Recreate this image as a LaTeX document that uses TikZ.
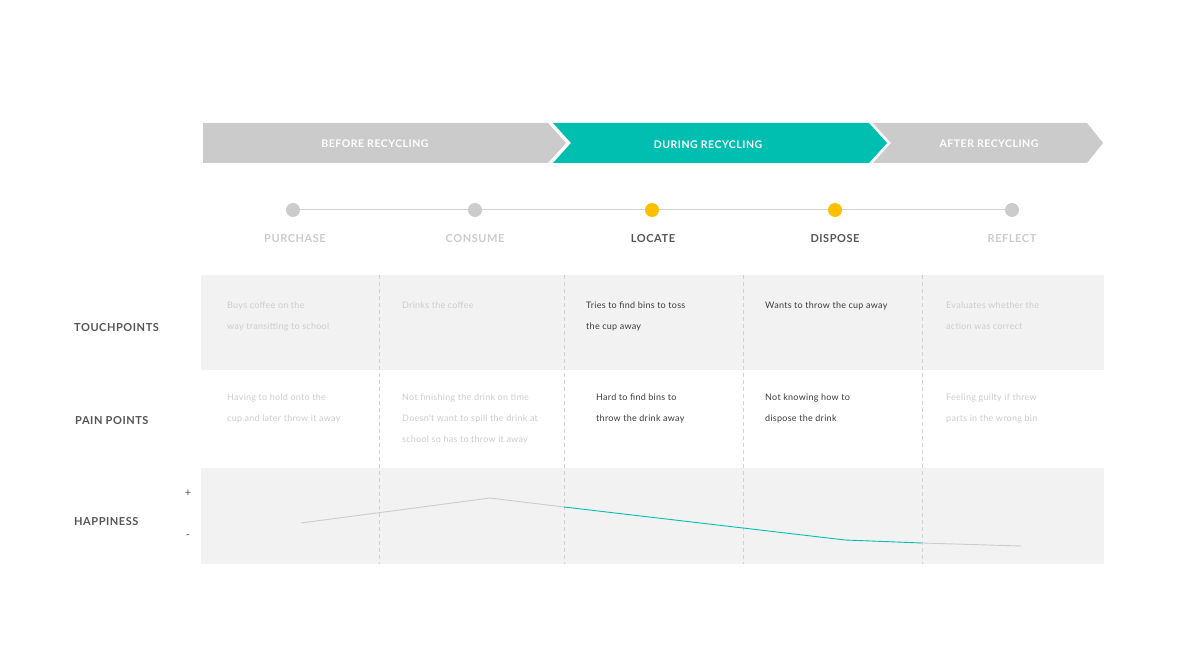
\documentclass[tikz,border=0pt]{standalone}
\usepackage{fontspec}
\setmainfont{Lato}
\newfontfamily\capsfont[LetterSpace=5]{Lato}
\newfontfamily\bodyfont[LetterSpace=3]{Lato}
\usetikzlibrary{positioning}
\definecolor{journeyteal}{HTML}{00BFB0}
\definecolor{bandgray}{HTML}{CBCBCB}
\definecolor{dotgray}{HTML}{CCCCCC}
\definecolor{dotyellow}{HTML}{FDC000}
\definecolor{rowfill}{HTML}{F2F2F2}
\definecolor{sepgray}{HTML}{D2D2D2}
\definecolor{lighttext}{HTML}{CDCDCD}
\definecolor{darktext}{HTML}{3C3C3C}
\definecolor{headgray}{HTML}{555555}
\begin{document}
\begin{tikzpicture}[x=1pt,y=-1pt,
    phase/.style={font=\capsfont\bfseries\fontsize{10.5}{12}\selectfont,text=white},
    stage/.style={circle,fill=dotgray,minimum size=14pt,inner sep=0pt},
    stagelabel/.style={font=\capsfont\bfseries\fontsize{11}{13}\selectfont,text=dotgray},
    rowlabel/.style={anchor=west,inner sep=0pt,font=\capsfont\bfseries\fontsize{11}{13}\selectfont,text=headgray},
    cell/.style={anchor=north west,align=left,inner sep=0pt,font=\bodyfont\fontsize{9}{21}\selectfont,text=lighttext},
    active/.style={text=darktext},
    tline/.style={draw=sepgray,line width=1pt},
    sep/.style={draw=sepgray,dash pattern=on 4pt off 3pt,line width=0.6pt},
    curve/.style={draw=dotgray,line width=0.9pt}]
    \useasboundingbox[fill=white] (0,0) rectangle (1188,668);

    % phases
    \fill[bandgray] (203,123) -- (548,123) -- (566,143) -- (548,163) -- (203,163) -- cycle;
    \fill[journeyteal] (553,123) -- (869,123) -- (887,143) -- (869,163) -- (553,163) -- (571,143) -- cycle;
    \fill[bandgray] (873,123) -- (1087,123) -- (1103,143) -- (1087,163) -- (873,163) -- (891,143) -- cycle;
    \node[phase] (before) at (375,144) {BEFORE RECYCLING};
    \node[phase] (during) at (708,145) {DURING RECYCLING};
    \node[phase] (after) at (989,144) {AFTER RECYCLING};

    % stages
    \node[stage] (purchase) at (293,210) {};
    \node[stage] (consume) at (475,210) {};
    \node[stage,fill=dotyellow] (locate) at (652,210) {};
    \node[stage,fill=dotyellow] (dispose) at (835,210) {};
    \node[stage] (reflect) at (1012,210) {};
    \path[tline]
    (purchase) edge (consume)
    (consume) edge (locate)
    (locate) edge (dispose)
    (dispose) edge (reflect)
    ;
    \node[stagelabel] (purchaselbl) at (295,239) {PURCHASE};
    \node[stagelabel] (consumelbl) at (475,239) {CONSUME};
    \node[stagelabel,text=headgray] (locatelbl) at (653,239) {LOCATE};
    \node[stagelabel,text=headgray] (disposelbl) at (835,239) {DISPOSE};
    \node[stagelabel] (reflectlbl) at (1012,239) {REFLECT};

    % rows
    \fill[rowfill] (201,275) rectangle (1104,370);
    \fill[rowfill] (201,468) rectangle (1104,564);
    \draw[sep] (379,275) -- (379,564);
    \draw[sep] (564,275) -- (564,564);
    \draw[sep] (743,275) -- (743,564);
    \draw[sep] (922,275) -- (922,564);

    \node[rowlabel] (touch) at (74,328) {TOUCHPOINTS};
    \node[rowlabel] (pain) at (75,421) {PAIN POINTS};
    \node[rowlabel] (happy) at (74,522) {HAPPINESS};

    \node[cell] (t1) at (227,302) {Buys coffee on the\\way transitting to school};
    \node[cell] (t2) at (402,302) {Drinks the coffee};
    \node[cell,active] (t3) at (586,302) {Tries to find bins to toss\\the cup away};
    \node[cell,active] (t4) at (765,302) {Wants to throw the cup away};
    \node[cell] (t5) at (946,302) {Evaluates whether the\\action was correct};

    \node[cell] (p1) at (227,394) {Having to hold onto the\\cup and later throw it away};
    \node[cell] (p2) at (402,394) {Not finishing the drink on time\\Doesn't want to spill the drink at\\school so has to throw it away};
    \node[cell,active] (p3) at (596,394) {Hard to find bins to\\throw the drink away};
    \node[cell,active] (p4) at (765,394) {Not knowing how to\\dispose the drink};
    \node[cell] (p5) at (946,394) {Feeling guilty if threw\\parts in the wrong bin};

    % happiness
    \node[text=headgray,font=\fontsize{11}{12}\selectfont] (plus) at (188,493) {+};
    \node[text=headgray,font=\fontsize{11}{12}\selectfont] (minus) at (188,537) {-};
    \coordinate (h1) at (301,523);
    \coordinate (h2) at (490,498);
    \coordinate (h3) at (564,507);
    \coordinate (h4) at (743,528);
    \coordinate (h5) at (845,540);
    \coordinate (h6) at (922,543);
    \coordinate (h7) at (1021,546);
    \draw[curve] (h1) -- (h2) -- (h3);
    \draw[curve,draw=journeyteal] (h3) -- (h4) -- (h5) -- (h6);
    \draw[curve] (h6) -- (h7);
\end{tikzpicture}
\end{document}
